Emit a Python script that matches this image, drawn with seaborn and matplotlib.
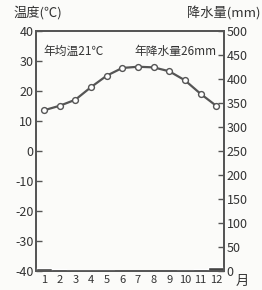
import pandas as pd
import matplotlib
matplotlib.use('Agg')
import matplotlib.pyplot as plt
import seaborn as sns

# monthly climate data
months = [1, 2, 3, 4, 5, 6, 7, 8, 9, 10, 11, 12]
temperature = [13.5, 15.0, 17.0, 21.2, 25.0, 27.6, 28.0, 27.8, 26.5, 23.5, 19.0, 15.0]
precipitation = [6, 4, 2, 1, 1, 0, 0, 0, 0, 1, 4, 7]
temp_ticks = [-40, -30, -20, -10, 0, 10, 20, 30, 40]
prec_ticks = [0, 50, 100, 150, 200, 250, 300, 350, 400, 450, 500]

df = pd.DataFrame({'month': months, 'temp': temperature, 'prec': precipitation})

sns.set_style('ticks')
plt.rcParams['font.family'] = ['Noto Sans CJK SC', 'DejaVu Sans']
plt.rcParams['axes.unicode_minus'] = False

line_color = '#555555'
text_color = '#333333'

fig = plt.figure(figsize=(2.62, 2.90), dpi=100)
fig.patch.set_facecolor('#fbfbf9')
ax = fig.add_axes([0.138, 0.066, 0.717, 0.828])
ax.set_facecolor('#fbfbf9')
ax2 = ax.twinx()

# precipitation bars (almost nothing)
sns.barplot(data=df, x='month', y='prec', native_scale=True, width=1.0,
            color='#444444', ax=ax2, zorder=1)

# temperature line
sns.lineplot(data=df, x='month', y='temp', ax=ax, color=line_color, linewidth=1.6,
             marker='o', markersize=4.2, markerfacecolor='white',
             markeredgecolor=line_color, markeredgewidth=1.0, zorder=3)

ax.set_xlim(0.5, 12.5)
ax.set_ylim(-40, 40)
ax2.set_ylim(0, 500)
ax.set_yticks(temp_ticks)
ax2.set_yticks(prec_ticks)
ax.set_xticks(months)
ax.set_xticklabels([str(m) for m in months])

for a in (ax, ax2):
    a.tick_params(direction='in', length=4, width=1.0, colors=line_color,
                  labelcolor=text_color, labelsize=9, pad=2)
    a.set_xlabel('')
    a.set_ylabel('')
    for s in a.spines.values():
        s.set_visible(True)
        s.set_color(line_color)
        s.set_linewidth(1.3)
ax.tick_params(axis='x', length=0, pad=3, labelsize=8)

fig.text(0.05, 0.955, '温度(℃)', fontsize=9.5, color=text_color, ha='left', va='center')
fig.text(0.995, 0.955, '降水量(mm)', fontsize=9.5, color=text_color, ha='right', va='center')
fig.text(0.90, 0.030, '月', fontsize=9.5, color=text_color, ha='left', va='center')

ax.text(0.04, 0.94, '年均温21℃', transform=ax.transAxes, fontsize=8.5,
        color=text_color, ha='left', va='top')
ax.text(0.96, 0.94, '年降水量26mm', transform=ax.transAxes, fontsize=8.5,
        color=text_color, ha='right', va='top')

fig.savefig('out.png', dpi=100, facecolor=fig.get_facecolor())
